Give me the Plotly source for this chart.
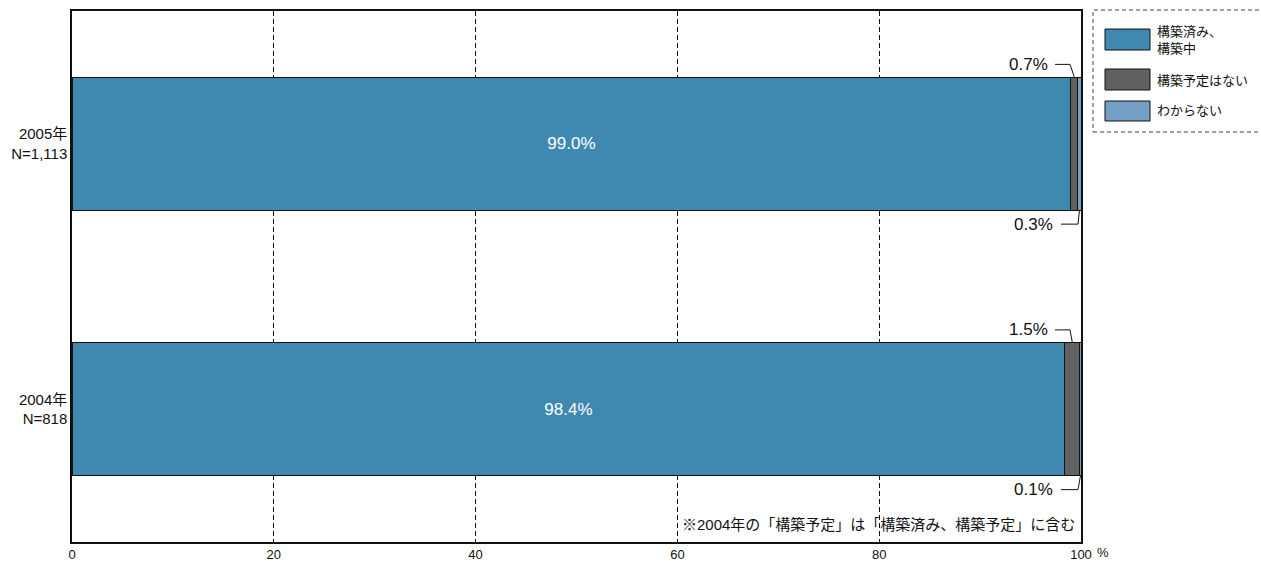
import plotly.graph_objects as go

categories = ["2004年<br>N=818", "2005年<br>N=1,113"]
series_names = ["構築済み、構築中", "構築予定はない", "わからない"]
built = [98.4, 99.0]
no_plan = [1.5, 0.7]
unknown = [0.1, 0.3]
colors = ["#3F88B0", "#616161", "#74A0C5"]
x_ticks = [0, 20, 40, 60, 80, 100]
note = "※2004年の「構築予定」は「構築済み、構築予定」に含む"

FONT = "Liberation Sans, Noto Sans CJK JP, sans-serif"
W, H = 1261, 561
L, R, T, B = 72, 180, 11, 19
PW = W - L - R
PH = H - T - B

def px2paperx(px):
    return (px - L) / PW

def py2papery(py):
    return 1 - (py - T) / PH

def px2x(px):
    return (px - L) / PW * 100

fig = go.Figure()
series = [built, no_plan, unknown]
for name, vals, col in zip(series_names, series, colors):
    first = name == series_names[0]
    fig.add_trace(go.Bar(
        y=categories, x=vals, name=name, orientation="h",
        marker=dict(color=col, line=dict(color="#111111", width=1)),
        width=0.5, showlegend=False,
        text=[f"{v:.1f}%" for v in vals] if first else None,
        textposition="inside" if first else "none",
        insidetextanchor="middle",
        textfont=dict(color="white", size=17, family=FONT),
        hoverinfo="skip",
    ))

shapes = []
annotations = []
half = 0.25
for i, cat in enumerate(categories):
    b, n, u = built[i], no_plan[i], unknown[i]
    c_no = b + n / 2
    c_un = b + n + u / 2
    top_edge = i + half
    bot_edge = i - half
    ly_top = top_edge + 13 / (PH / 2)
    shapes.append(dict(type="path", xref="x", yref="y",
                       path=f"M {px2x(1055)},{ly_top} L {px2x(1070)},{ly_top} L {c_no},{top_edge}",
                       line=dict(color="#111111", width=1)))
    annotations.append(dict(x=px2x(1050), y=ly_top, xref="x", yref="y", text=f"{n:.1f}%",
                            showarrow=False, xanchor="right", yanchor="middle",
                            font=dict(size=17, color="#111111", family=FONT)))
    ly_bot = bot_edge - 14 / (PH / 2)
    shapes.append(dict(type="path", xref="x", yref="y",
                       path=f"M {px2x(1061)},{ly_bot} L {px2x(1078)},{ly_bot} L {c_un},{bot_edge}",
                       line=dict(color="#111111", width=1)))
    annotations.append(dict(x=px2x(1055), y=ly_bot, xref="x", yref="y", text=f"{u:.1f}%",
                            showarrow=False, xanchor="right", yanchor="middle",
                            font=dict(size=17, color="#111111", family=FONT)))

annotations.append(dict(x=px2paperx(1077), y=py2papery(524), xref="paper", yref="paper",
                        text=note, showarrow=False, xanchor="right", yanchor="middle",
                        font=dict(size=15, color="#111111", family=FONT)))
annotations.append(dict(x=px2paperx(1095), y=py2papery(552), xref="paper", yref="paper",
                        text="%", showarrow=False, xanchor="left", yanchor="middle",
                        font=dict(size=13, color="#111111", family=FONT)))

shapes.append(dict(type="rect", xref="paper", yref="paper",
                   x0=px2paperx(1093), x1=px2paperx(1262), y0=py2papery(132), y1=py2papery(10),
                   line=dict(color="#444444", width=1, dash="4px,3px"), fillcolor="rgba(0,0,0,0)"))
leg_rows = [(29, 50, 40, "構築済み、<br>構築中"), (69, 90, 80, series_names[1]), (101, 121, 111, series_names[2])]
for (y0, y1, yc, txt), col in zip(leg_rows, colors):
    shapes.append(dict(type="rect", xref="paper", yref="paper",
                       x0=px2paperx(1105), x1=px2paperx(1150), y0=py2papery(y1), y1=py2papery(y0),
                       line=dict(color="#111111", width=1), fillcolor=col))
    annotations.append(dict(x=px2paperx(1155), y=py2papery(yc), xref="paper", yref="paper",
                            text=txt, showarrow=False, xanchor="left", yanchor="middle", align="left",
                            font=dict(size=13, color="#111111", family=FONT)))

fig.update_layout(
    width=W, height=H, barmode="stack",
    margin=dict(l=L, r=R, t=T, b=B, autoexpand=False),
    paper_bgcolor="white", plot_bgcolor="white",
    font=dict(family=FONT, size=13, color="#111111"),
    shapes=shapes, annotations=annotations, showlegend=False,
    uniformtext=dict(mode="show", minsize=8),
)
fig.update_xaxes(range=[0, 100], tickvals=x_ticks, ticktext=[str(t) for t in x_ticks],
                 showgrid=True, gridcolor="#111111", gridwidth=1, griddash="5px,3px",
                 showline=True, linecolor="#111111", linewidth=1.5, mirror=True,
                 ticks="", zeroline=False, tickfont=dict(size=13), ticklen=0)
fig.update_yaxes(categoryorder="array", categoryarray=categories, range=[-0.5, 1.5],
                 showgrid=False, showline=True, linecolor="#111111", linewidth=1.5, mirror=True,
                 ticks="", tickfont=dict(size=15))

fig.write_html("out.html", config={"displayModeBar": False},
               post_script="document.body.style.margin='0';document.body.style.overflow='hidden';")
